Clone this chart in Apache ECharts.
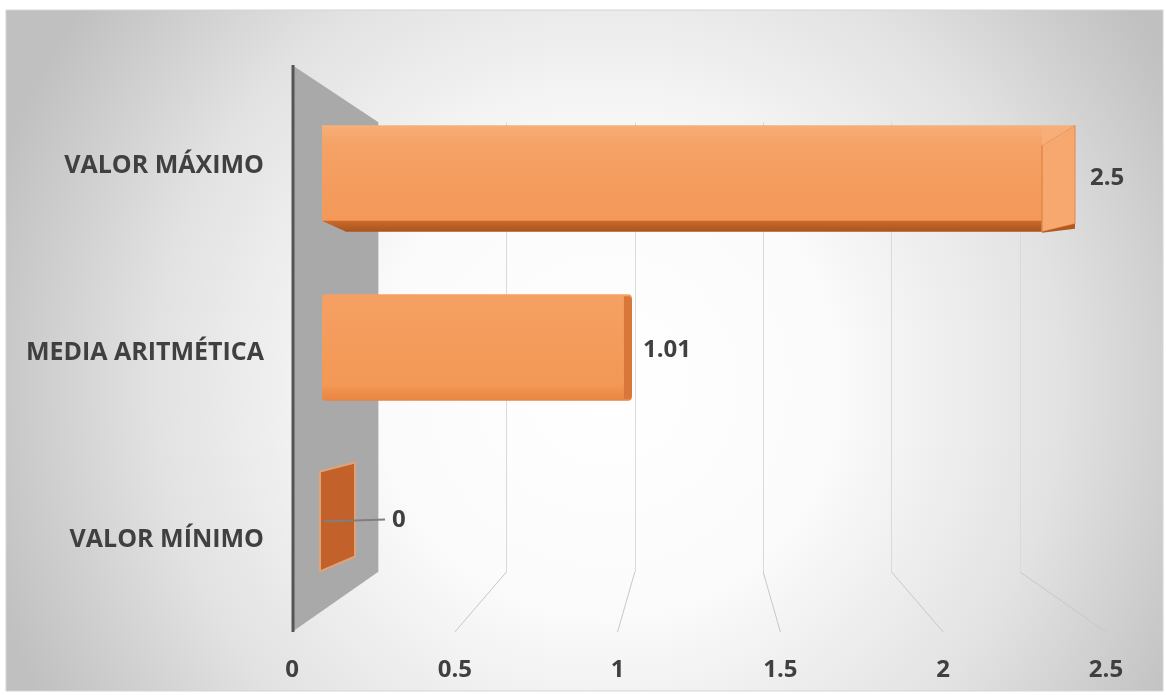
<!DOCTYPE html>
<html><head><meta charset="utf-8">
<script src="https://cdn.jsdelivr.net/npm/echarts@6/dist/echarts.min.js"></script>
<style>html,body{margin:0;padding:0;background:#fff}#c{width:1166px;height:695px}</style>
</head><body><div id="c"></div>
<script>
const categories = ['VALOR MÍNIMO', 'MEDIA ARITMÉTICA', 'VALOR MÁXIMO'];
const values = [0, 1.01, 2.5];
const tickLabels = ['0', '0.5', '1', '1.5', '2', '2.5'];
const axisMin = 0, axisMax = 2.5, axisStep = 0.5;

const FONT = 'Open Sans';
const TXT = '#404040';
const chart = echarts.init(document.getElementById('c'), null, {renderer: 'canvas'});

function tickFmt(v) { return tickLabels[Math.round((v - axisMin) / axisStep)] || ''; }

const option = {
  animation: false,
  backgroundColor: '#ffffff',
  grid: [
    {left: 292, top: 72, width: 814, height: 561},   // front plane (labels)
    {left: 378, top: 122, width: 642, height: 450},  // back plane (gridlines)
    {left: 354, top: 94, width: 688, height: 507}    // bar plane
  ],
  xAxis: [
    {gridIndex: 0, type: 'value', min: axisMin, max: axisMax, interval: axisStep,
     axisLine: {show: false}, axisTick: {show: false}, splitLine: {show: false},
     axisLabel: {margin: 25, formatter: tickFmt, color: TXT, fontFamily: FONT, fontWeight: 'bold', fontSize: 24}},
    {gridIndex: 1, type: 'value', min: axisMin, max: axisMax, interval: axisStep,
     axisLine: {show: false}, axisTick: {show: false}, axisLabel: {show: false},
     splitLine: {show: true, lineStyle: {color: '#dadada', width: 1}}},
    {gridIndex: 2, type: 'value', min: axisMin, max: axisMax, show: false}
  ],
  yAxis: [
    {gridIndex: 0, type: 'category', data: categories,
     axisLine: {show: false}, axisTick: {show: false},
     axisLabel: {margin: 28, color: TXT, fontFamily: FONT, fontWeight: 'bold', fontSize: 25}},
    {gridIndex: 1, type: 'category', data: categories, show: false},
    {gridIndex: 2, type: 'category', data: categories, show: false}
  ],
  series: [{
    type: 'custom',
    xAxisIndex: 2, yAxisIndex: 2,
    z: 5,
    data: values.map((v, i) => [v, i]),
    renderItem: function (params, api) {
      const v = api.value(0), ci = api.value(1);
      const p0 = api.coord([0, ci]);
      const p1 = api.coord([v, ci]);
      const band = api.size([0, 1])[1];
      const h = band * 0.63;
      const cy = p0[1];
      const top = cy - h / 2, bot = cy + h / 2;
      const xs = p0[0] - 32;
      const x1 = p1[0];
      const mid = api.coord([0, 1])[1];
      const k = Math.round((cy - mid) / band); // -1 top bar, 0 middle, 1 bottom
      const ch = [];
      const lbl = {fontFamily: FONT, fontWeight: 'bold', fontSize: 24, fill: TXT, verticalAlign: 'middle', align: 'left'};
      if (v > 0) {
        if (k < 0) {
          ch.push({type: 'rect', shape: {x: xs, y: top, width: x1 - xs, height: h - 10},
            style: {fill: new echarts.graphic.LinearGradient(0, 0, 0, 1, [
              {offset: 0, color: '#F7AE78'}, {offset: 0.2, color: '#F5A266'}, {offset: 1, color: '#F39858'}])}});
          ch.push({type: 'polygon', shape: {points: [[xs, bot - 11], [x1, bot - 11], [x1, bot], [xs + 24, bot]]},
            style: {fill: new echarts.graphic.LinearGradient(0, 0, 0, 1, [
              {offset: 0, color: '#C9692C'}, {offset: 1, color: '#A9541E'}])}});
          ch.push({type: 'polygon', shape: {points: [[x1, top + 20], [x1 + 33, top], [x1 + 33, bot - 8], [x1, bot]]},
            style: {fill: '#F6A86E', stroke: '#E08A4C', lineWidth: 1}});
          ch.push({type: 'line', shape: {x1: x1, y1: top + 20, x2: x1, y2: bot}, style: {stroke: '#E3874A', lineWidth: 1}});
          ch.push({type: 'polygon', shape: {points: [[x1, top], [x1 + 33, top], [x1, top + 20]]}, style: {fill: '#F7AE78'}});
          ch.push({type: 'polygon', shape: {points: [[x1, bot], [x1 + 33, bot - 8], [x1 + 33, bot - 3], [x1, bot + 1]]}, style: {fill: '#B5581E'}});
          ch.push({type: 'text', style: Object.assign({text: String(v), x: x1 + 48, y: cy}, lbl)});
        } else {
          ch.push({type: 'rect', shape: {x: xs, y: top, width: x1 - xs, height: h, r: 4},
            style: {fill: new echarts.graphic.LinearGradient(0, 0, 0, 1, [
              {offset: 0, color: '#F5A063'}, {offset: 0.85, color: '#F39856'}, {offset: 1, color: '#E8843F'}])}});
          ch.push({type: 'rect', shape: {x: x1 - 8, y: top + 2, width: 8, height: h - 4, r: [0, 4, 4, 0]},
            style: {fill: '#D9773A'}});
          ch.push({type: 'text', style: Object.assign({text: String(v), x: x1 + 11, y: cy + 3}, lbl)});
        }
      } else {
        ch.push({type: 'polygon', shape: {points: [[xs - 2, cy - 45], [xs + 33, cy - 54], [xs + 33, cy + 40], [xs - 2, cy + 55]]},
          style: {fill: '#C2622A', stroke: '#E0A278', lineWidth: 2}});
        ch.push({type: 'line', shape: {x1: xs + 2, y1: cy + 5, x2: xs + 63, y2: cy + 3}, style: {stroke: '#7f7f7f', lineWidth: 2}});
        ch.push({type: 'text', style: Object.assign({text: String(v), x: xs + 70, y: cy + 4}, lbl)});
      }
      return {type: 'group', children: ch};
    }
  }]
};
chart.setOption(option);

// Decorations derived from the axes (floor lines, side wall, background)
const yFrontBottom = 632, yBackBottom = 572, yFrontTop = 65, yBackTop = 122;
const gfx = [];
gfx.push({type: 'rect', z: -100, silent: true, shape: {x: 6, y: 10, width: 1157, height: 681},
  style: {fill: new echarts.graphic.RadialGradient(0.52, 0.55, 0.95, [
    {offset: 0, color: '#ffffff'}, {offset: 0.35, color: '#fbfbfb'}, {offset: 0.7, color: '#e2e2e2'}, {offset: 1, color: '#c0c0c0'}]),
    stroke: '#d4d4d4', lineWidth: 1}});
for (let v = axisMin + axisStep; v <= axisMax + 1e-9; v += axisStep) {
  const xb = chart.convertToPixel({xAxisIndex: 1}, v);
  const xf = chart.convertToPixel({xAxisIndex: 0}, v);
  gfx.push({type: 'line', z: 1, silent: true, shape: {x1: xb, y1: yBackBottom, x2: xf, y2: yFrontBottom},
    style: {stroke: '#c8c8c8', lineWidth: 1}});
}
const wb = chart.convertToPixel({xAxisIndex: 1}, axisMin);
const wf = chart.convertToPixel({xAxisIndex: 0}, axisMin);
gfx.push({type: 'polygon', z: 2, silent: true,
  shape: {points: [[wf, yFrontTop], [wb, yBackTop], [wb, yBackBottom], [wf, yFrontBottom]]},
  style: {fill: '#a9a9a9'}});
gfx.push({type: 'line', z: 3, silent: true, shape: {x1: wf + 1, y1: yFrontTop, x2: wf + 1, y2: yFrontBottom},
  style: {stroke: '#555555', lineWidth: 3}});
chart.setOption({graphic: {elements: gfx}});
</script>
</body></html>
